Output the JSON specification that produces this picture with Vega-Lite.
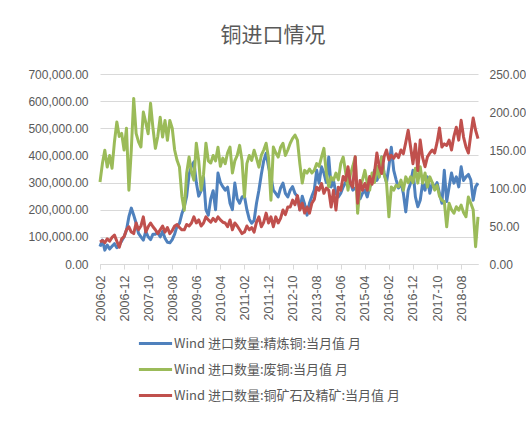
{
  "$schema": "https://vega.github.io/schema/vega-lite/v6.json",
  "autosize": "none",
  "width": 378,
  "height": 190,
  "padding": {"left": 100, "top": 74, "right": 48, "bottom": 157},
  "background": "white",
  "title": {"text": "铜进口情况", "font": "Noto Sans CJK SC", "fontSize": 21, "fontWeight": "normal", "color": "#595959", "anchor": "middle", "dx": -16, "offset": 22},
  "datasets": {
    "jl": [
{"d":"2006-02","v":64000},{"d":"2006-03","v":88000},{"d":"2006-04","v":51000},{"d":"2006-05","v":70000},{"d":"2006-06","v":55000},{"d":"2006-07","v":65000},{"d":"2006-08","v":75000},{"d":"2006-09","v":60000},{"d":"2006-10","v":70000},{"d":"2006-11","v":85000},{"d":"2006-12","v":100000},
{"d":"2007-01","v":125000},{"d":"2007-02","v":174000},{"d":"2007-03","v":206000},{"d":"2007-04","v":180000},{"d":"2007-05","v":150000},{"d":"2007-06","v":113000},{"d":"2007-07","v":100000},{"d":"2007-08","v":88000},{"d":"2007-09","v":120000},{"d":"2007-10","v":100000},{"d":"2007-11","v":90000},{"d":"2007-12","v":110000},
{"d":"2008-01","v":110000},{"d":"2008-02","v":115000},{"d":"2008-03","v":100000},{"d":"2008-04","v":120000},{"d":"2008-05","v":95000},{"d":"2008-06","v":80000},{"d":"2008-07","v":78000},{"d":"2008-08","v":90000},{"d":"2008-09","v":110000},{"d":"2008-10","v":140000},{"d":"2008-11","v":150000},{"d":"2008-12","v":185000},
{"d":"2009-01","v":210000},{"d":"2009-02","v":250000},{"d":"2009-03","v":330000},{"d":"2009-04","v":360000},{"d":"2009-05","v":376000},{"d":"2009-06","v":300000},{"d":"2009-07","v":250000},{"d":"2009-08","v":270000},{"d":"2009-09","v":320000},{"d":"2009-10","v":200000},{"d":"2009-11","v":180000},{"d":"2009-12","v":240000},
{"d":"2010-01","v":270000},{"d":"2010-02","v":200000},{"d":"2010-03","v":335000},{"d":"2010-04","v":300000},{"d":"2010-05","v":285000},{"d":"2010-06","v":272000},{"d":"2010-07","v":283000},{"d":"2010-08","v":224000},{"d":"2010-09","v":200000},{"d":"2010-10","v":298000},{"d":"2010-11","v":240000},{"d":"2010-12","v":224000},
{"d":"2011-01","v":247000},{"d":"2011-02","v":250000},{"d":"2011-03","v":200000},{"d":"2011-04","v":165000},{"d":"2011-05","v":150000},{"d":"2011-06","v":160000},{"d":"2011-07","v":224000},{"d":"2011-08","v":272000},{"d":"2011-09","v":330000},{"d":"2011-10","v":380000},{"d":"2011-11","v":408000},{"d":"2011-12","v":358000},
{"d":"2012-01","v":321000},{"d":"2012-02","v":272000},{"d":"2012-03","v":260000},{"d":"2012-04","v":247000},{"d":"2012-05","v":280000},{"d":"2012-06","v":298000},{"d":"2012-07","v":260000},{"d":"2012-08","v":247000},{"d":"2012-09","v":272000},{"d":"2012-10","v":285000},{"d":"2012-11","v":260000},{"d":"2012-12","v":250000},
{"d":"2013-01","v":200000},{"d":"2013-02","v":250000},{"d":"2013-03","v":220000},{"d":"2013-04","v":180000},{"d":"2013-05","v":224000},{"d":"2013-06","v":250000},{"d":"2013-07","v":272000},{"d":"2013-08","v":345000},{"d":"2013-09","v":298000},{"d":"2013-10","v":358000},{"d":"2013-11","v":335000},{"d":"2013-12","v":300000},
{"d":"2014-01","v":394000},{"d":"2014-02","v":284000},{"d":"2014-03","v":308000},{"d":"2014-04","v":260000},{"d":"2014-05","v":247000},{"d":"2014-06","v":261000},{"d":"2014-07","v":284000},{"d":"2014-08","v":300000},{"d":"2014-09","v":335000},{"d":"2014-10","v":300000},{"d":"2014-11","v":272000},{"d":"2014-12","v":280000},
{"d":"2015-01","v":280000},{"d":"2015-02","v":240000},{"d":"2015-03","v":260000},{"d":"2015-04","v":272000},{"d":"2015-05","v":247000},{"d":"2015-06","v":284000},{"d":"2015-07","v":300000},{"d":"2015-08","v":345000},{"d":"2015-09","v":308000},{"d":"2015-10","v":330000},{"d":"2015-11","v":394000},{"d":"2015-12","v":335000},
{"d":"2016-01","v":300000},{"d":"2016-02","v":360000},{"d":"2016-03","v":430000},{"d":"2016-04","v":345000},{"d":"2016-05","v":310000},{"d":"2016-06","v":280000},{"d":"2016-07","v":300000},{"d":"2016-08","v":260000},{"d":"2016-09","v":192000},{"d":"2016-10","v":272000},{"d":"2016-11","v":298000},{"d":"2016-12","v":345000},
{"d":"2017-01","v":247000},{"d":"2017-02","v":211000},{"d":"2017-03","v":235000},{"d":"2017-04","v":298000},{"d":"2017-05","v":272000},{"d":"2017-06","v":321000},{"d":"2017-07","v":261000},{"d":"2017-08","v":298000},{"d":"2017-09","v":280000},{"d":"2017-10","v":300000},{"d":"2017-11","v":260000},{"d":"2017-12","v":224000},
{"d":"2018-01","v":345000},{"d":"2018-02","v":230000},{"d":"2018-03","v":284000},{"d":"2018-04","v":335000},{"d":"2018-05","v":298000},{"d":"2018-06","v":321000},{"d":"2018-07","v":284000},{"d":"2018-08","v":358000},{"d":"2018-09","v":308000},{"d":"2018-10","v":321000},{"d":"2018-11","v":330000},{"d":"2018-12","v":310000},
{"d":"2019-01","v":235000},{"d":"2019-02","v":284000},{"d":"2019-03","v":298000}
    ],
    "fei": [
{"d":"2006-02","v":302000},{"d":"2006-03","v":370000},{"d":"2006-04","v":419000},{"d":"2006-05","v":357000},{"d":"2006-06","v":400000},{"d":"2006-07","v":353000},{"d":"2006-08","v":450000},{"d":"2006-09","v":523000},{"d":"2006-10","v":470000},{"d":"2006-11","v":481000},{"d":"2006-12","v":420000},
{"d":"2007-01","v":500000},{"d":"2007-02","v":272000},{"d":"2007-03","v":420000},{"d":"2007-04","v":610000},{"d":"2007-05","v":481000},{"d":"2007-06","v":450000},{"d":"2007-07","v":431000},{"d":"2007-08","v":560000},{"d":"2007-09","v":522000},{"d":"2007-10","v":480000},{"d":"2007-11","v":592000},{"d":"2007-12","v":500000},
{"d":"2008-01","v":426000},{"d":"2008-02","v":470000},{"d":"2008-03","v":541000},{"d":"2008-04","v":468000},{"d":"2008-05","v":529000},{"d":"2008-06","v":456000},{"d":"2008-07","v":529000},{"d":"2008-08","v":500000},{"d":"2008-09","v":420000},{"d":"2008-10","v":382000},{"d":"2008-11","v":357000},{"d":"2008-12","v":250000},
{"d":"2009-01","v":198000},{"d":"2009-02","v":335000},{"d":"2009-03","v":394000},{"d":"2009-04","v":340000},{"d":"2009-05","v":309000},{"d":"2009-06","v":445000},{"d":"2009-07","v":380000},{"d":"2009-08","v":272000},{"d":"2009-09","v":330000},{"d":"2009-10","v":445000},{"d":"2009-11","v":380000},{"d":"2009-12","v":372000},
{"d":"2010-01","v":400000},{"d":"2010-02","v":380000},{"d":"2010-03","v":430000},{"d":"2010-04","v":360000},{"d":"2010-05","v":390000},{"d":"2010-06","v":370000},{"d":"2010-07","v":410000},{"d":"2010-08","v":431000},{"d":"2010-09","v":335000},{"d":"2010-10","v":380000},{"d":"2010-11","v":400000},{"d":"2010-12","v":437000},
{"d":"2011-01","v":380000},{"d":"2011-02","v":247000},{"d":"2011-03","v":370000},{"d":"2011-04","v":400000},{"d":"2011-05","v":382000},{"d":"2011-06","v":419000},{"d":"2011-07","v":390000},{"d":"2011-08","v":357000},{"d":"2011-09","v":400000},{"d":"2011-10","v":420000},{"d":"2011-11","v":445000},{"d":"2011-12","v":390000},
{"d":"2012-01","v":235000},{"d":"2012-02","v":431000},{"d":"2012-03","v":410000},{"d":"2012-04","v":394000},{"d":"2012-05","v":430000},{"d":"2012-06","v":445000},{"d":"2012-07","v":400000},{"d":"2012-08","v":420000},{"d":"2012-09","v":445000},{"d":"2012-10","v":463000},{"d":"2012-11","v":475000},{"d":"2012-12","v":456000},
{"d":"2013-01","v":370000},{"d":"2013-02","v":298000},{"d":"2013-03","v":345000},{"d":"2013-04","v":335000},{"d":"2013-05","v":350000},{"d":"2013-06","v":335000},{"d":"2013-07","v":345000},{"d":"2013-08","v":370000},{"d":"2013-09","v":360000},{"d":"2013-10","v":394000},{"d":"2013-11","v":426000},{"d":"2013-12","v":335000},
{"d":"2014-01","v":284000},{"d":"2014-02","v":320000},{"d":"2014-03","v":309000},{"d":"2014-04","v":335000},{"d":"2014-05","v":310000},{"d":"2014-06","v":370000},{"d":"2014-07","v":394000},{"d":"2014-08","v":340000},{"d":"2014-09","v":272000},{"d":"2014-10","v":330000},{"d":"2014-11","v":360000},{"d":"2014-12","v":394000},
{"d":"2015-01","v":187000},{"d":"2015-02","v":284000},{"d":"2015-03","v":309000},{"d":"2015-04","v":345000},{"d":"2015-05","v":298000},{"d":"2015-06","v":272000},{"d":"2015-07","v":335000},{"d":"2015-08","v":300000},{"d":"2015-09","v":360000},{"d":"2015-10","v":320000},{"d":"2015-11","v":394000},{"d":"2015-12","v":330000},
{"d":"2016-01","v":300000},{"d":"2016-02","v":174000},{"d":"2016-03","v":284000},{"d":"2016-04","v":272000},{"d":"2016-05","v":290000},{"d":"2016-06","v":285000},{"d":"2016-07","v":309000},{"d":"2016-08","v":272000},{"d":"2016-09","v":321000},{"d":"2016-10","v":300000},{"d":"2016-11","v":321000},{"d":"2016-12","v":300000},
{"d":"2017-01","v":353000},{"d":"2017-02","v":298000},{"d":"2017-03","v":358000},{"d":"2017-04","v":298000},{"d":"2017-05","v":335000},{"d":"2017-06","v":284000},{"d":"2017-07","v":321000},{"d":"2017-08","v":300000},{"d":"2017-09","v":272000},{"d":"2017-10","v":290000},{"d":"2017-11","v":250000},{"d":"2017-12","v":235000},
{"d":"2018-01","v":230000},{"d":"2018-02","v":137000},{"d":"2018-03","v":224000},{"d":"2018-04","v":200000},{"d":"2018-05","v":187000},{"d":"2018-06","v":211000},{"d":"2018-07","v":198000},{"d":"2018-08","v":217000},{"d":"2018-09","v":190000},{"d":"2018-10","v":174000},{"d":"2018-11","v":247000},{"d":"2018-12","v":224000},
{"d":"2019-01","v":200000},{"d":"2019-02","v":64000},{"d":"2019-03","v":174000}
    ],
    "kuang": [
{"d":"2006-02","v":29},{"d":"2006-03","v":31},{"d":"2006-04","v":28},{"d":"2006-05","v":33},{"d":"2006-06","v":30},{"d":"2006-07","v":35},{"d":"2006-08","v":38},{"d":"2006-09","v":30},{"d":"2006-10","v":22},{"d":"2006-11","v":33},{"d":"2006-12","v":36},
{"d":"2007-01","v":45},{"d":"2007-02","v":49},{"d":"2007-03","v":42},{"d":"2007-04","v":40},{"d":"2007-05","v":54},{"d":"2007-06","v":45},{"d":"2007-07","v":50},{"d":"2007-08","v":62},{"d":"2007-09","v":42},{"d":"2007-10","v":49},{"d":"2007-11","v":54},{"d":"2007-12","v":49},
{"d":"2008-01","v":45},{"d":"2008-02","v":40},{"d":"2008-03","v":45},{"d":"2008-04","v":50},{"d":"2008-05","v":42},{"d":"2008-06","v":48},{"d":"2008-07","v":40},{"d":"2008-08","v":44},{"d":"2008-09","v":50},{"d":"2008-10","v":52},{"d":"2008-11","v":48},{"d":"2008-12","v":45},
{"d":"2009-01","v":45},{"d":"2009-02","v":52},{"d":"2009-03","v":50},{"d":"2009-04","v":54},{"d":"2009-05","v":62},{"d":"2009-06","v":54},{"d":"2009-07","v":58},{"d":"2009-08","v":50},{"d":"2009-09","v":54},{"d":"2009-10","v":62},{"d":"2009-11","v":58},{"d":"2009-12","v":55},
{"d":"2010-01","v":60},{"d":"2010-02","v":56},{"d":"2010-03","v":62},{"d":"2010-04","v":58},{"d":"2010-05","v":55},{"d":"2010-06","v":54},{"d":"2010-07","v":49},{"d":"2010-08","v":58},{"d":"2010-09","v":45},{"d":"2010-10","v":54},{"d":"2010-11","v":50},{"d":"2010-12","v":45},
{"d":"2011-01","v":40},{"d":"2011-02","v":42},{"d":"2011-03","v":50},{"d":"2011-04","v":45},{"d":"2011-05","v":48},{"d":"2011-06","v":42},{"d":"2011-07","v":55},{"d":"2011-08","v":62},{"d":"2011-09","v":49},{"d":"2011-10","v":55},{"d":"2011-11","v":67},{"d":"2011-12","v":54},
{"d":"2012-01","v":62},{"d":"2012-02","v":49},{"d":"2012-03","v":62},{"d":"2012-04","v":54},{"d":"2012-05","v":60},{"d":"2012-06","v":71},{"d":"2012-07","v":65},{"d":"2012-08","v":75},{"d":"2012-09","v":75},{"d":"2012-10","v":84},{"d":"2012-11","v":78},{"d":"2012-12","v":90},
{"d":"2013-01","v":71},{"d":"2013-02","v":80},{"d":"2013-03","v":67},{"d":"2013-04","v":75},{"d":"2013-05","v":67},{"d":"2013-06","v":80},{"d":"2013-07","v":85},{"d":"2013-08","v":101},{"d":"2013-09","v":97},{"d":"2013-10","v":106},{"d":"2013-11","v":93},{"d":"2013-12","v":100},
{"d":"2014-01","v":97},{"d":"2014-02","v":75},{"d":"2014-03","v":97},{"d":"2014-04","v":71},{"d":"2014-05","v":101},{"d":"2014-06","v":97},{"d":"2014-07","v":115},{"d":"2014-08","v":110},{"d":"2014-09","v":128},{"d":"2014-10","v":106},{"d":"2014-11","v":101},{"d":"2014-12","v":141},
{"d":"2015-01","v":80},{"d":"2015-02","v":110},{"d":"2015-03","v":97},{"d":"2015-04","v":106},{"d":"2015-05","v":97},{"d":"2015-06","v":115},{"d":"2015-07","v":105},{"d":"2015-08","v":120},{"d":"2015-09","v":146},{"d":"2015-10","v":128},{"d":"2015-11","v":119},{"d":"2015-12","v":141},
{"d":"2016-01","v":150},{"d":"2016-02","v":137},{"d":"2016-03","v":143},{"d":"2016-04","v":139},{"d":"2016-05","v":145},{"d":"2016-06","v":140},{"d":"2016-07","v":150},{"d":"2016-08","v":145},{"d":"2016-09","v":160},{"d":"2016-10","v":176},{"d":"2016-11","v":154},{"d":"2016-12","v":132},
{"d":"2017-01","v":158},{"d":"2017-02","v":123},{"d":"2017-03","v":163},{"d":"2017-04","v":140},{"d":"2017-05","v":128},{"d":"2017-06","v":141},{"d":"2017-07","v":146},{"d":"2017-08","v":150},{"d":"2017-09","v":146},{"d":"2017-10","v":160},{"d":"2017-11","v":179},{"d":"2017-12","v":154},
{"d":"2018-01","v":158},{"d":"2018-02","v":156},{"d":"2018-03","v":163},{"d":"2018-04","v":150},{"d":"2018-05","v":168},{"d":"2018-06","v":180},{"d":"2018-07","v":163},{"d":"2018-08","v":189},{"d":"2018-09","v":167},{"d":"2018-10","v":154},{"d":"2018-11","v":146},{"d":"2018-12","v":170},
{"d":"2019-01","v":192},{"d":"2019-02","v":176},{"d":"2019-03","v":165}
    ]
  },
  "encoding": {
    "x": {
      "field": "d", "type": "ordinal", "title": null,
      "scale": {"type": "point", "padding": 0},
      "axis": {
        "values": ["2006-02","2006-12","2007-10","2008-08","2009-06","2010-04","2011-02","2011-12","2012-10","2013-08","2014-06","2015-04","2016-02","2016-12","2017-10","2018-08"],
        "labelAngle": -90, "labelPadding": 6, "domainColor": "#d9d9d9", "tickColor": "#d9d9d9", "tickSize": 5, "grid": false, "labelFontSize": 12.5
      }
    }
  },
  "layer": [
    {
      "encoding": {
        "y": {
          "field": "v", "type": "quantitative", "title": null,
          "scale": {"domain": [0, 700000], "nice": false},
          "axis": {"values": [0,100000,200000,300000,400000,500000,600000,700000], "format": ",.2f", "domain": false, "ticks": false, "grid": true, "gridColor": "#d9d9d9", "labelPadding": 12}
        }
      },
      "layer": [
        {
          "data": {"name": "jl"},
          "mark": {"type": "line", "strokeWidth": 3, "strokeJoin": "round"},
          "encoding": {"color": {"datum": "精炼铜", "type": "nominal",
            "scale": {"domain": ["精炼铜", "废铜", "铜矿石及精矿"], "range": ["#4F81BD", "#9BBB59", "#C0504D"]},
            "legend": {"labelExpr": "'Wind 进口数量:' + datum.label + ':当月值 月'"}}}
        },
        {
          "data": {"name": "fei"},
          "mark": {"type": "line", "strokeWidth": 3, "strokeJoin": "round"},
          "encoding": {"color": {"datum": "废铜", "type": "nominal"}}
        }
      ]
    },
    {
      "data": {"name": "kuang"},
      "mark": {"type": "line", "strokeWidth": 3, "strokeJoin": "round"},
      "encoding": {
        "y": {
          "field": "v", "type": "quantitative", "title": null,
          "scale": {"domain": [0, 250], "nice": false},
          "axis": {"orient": "right", "values": [0,50,100,150,200,250], "format": ".2f", "domain": false, "ticks": false, "grid": false, "labelPadding": 11}
        },
        "color": {"datum": "铜矿石及精矿", "type": "nominal"}
      }
    }
  ],
  "resolve": {"scale": {"y": "independent", "color": "shared"}},
  "config": {
    "view": {"stroke": null},
    "axis": {"labelFont": "Liberation Sans", "labelFontSize": 12, "labelColor": "#595959"},
    "legend": {
      "orient": "none", "legendX": 37, "legendY": 251, "direction": "vertical", "title": null,
      "symbolType": "M-1,0H1", "symbolSize": 1100, "symbolStrokeWidth": 3,
      "labelFont": "Noto Sans CJK SC", "labelFontSize": 13, "labelColor": "#595959", "labelLimit": 400,
      "rowPadding": -11, "labelOffset": 0
    }
  }
}
